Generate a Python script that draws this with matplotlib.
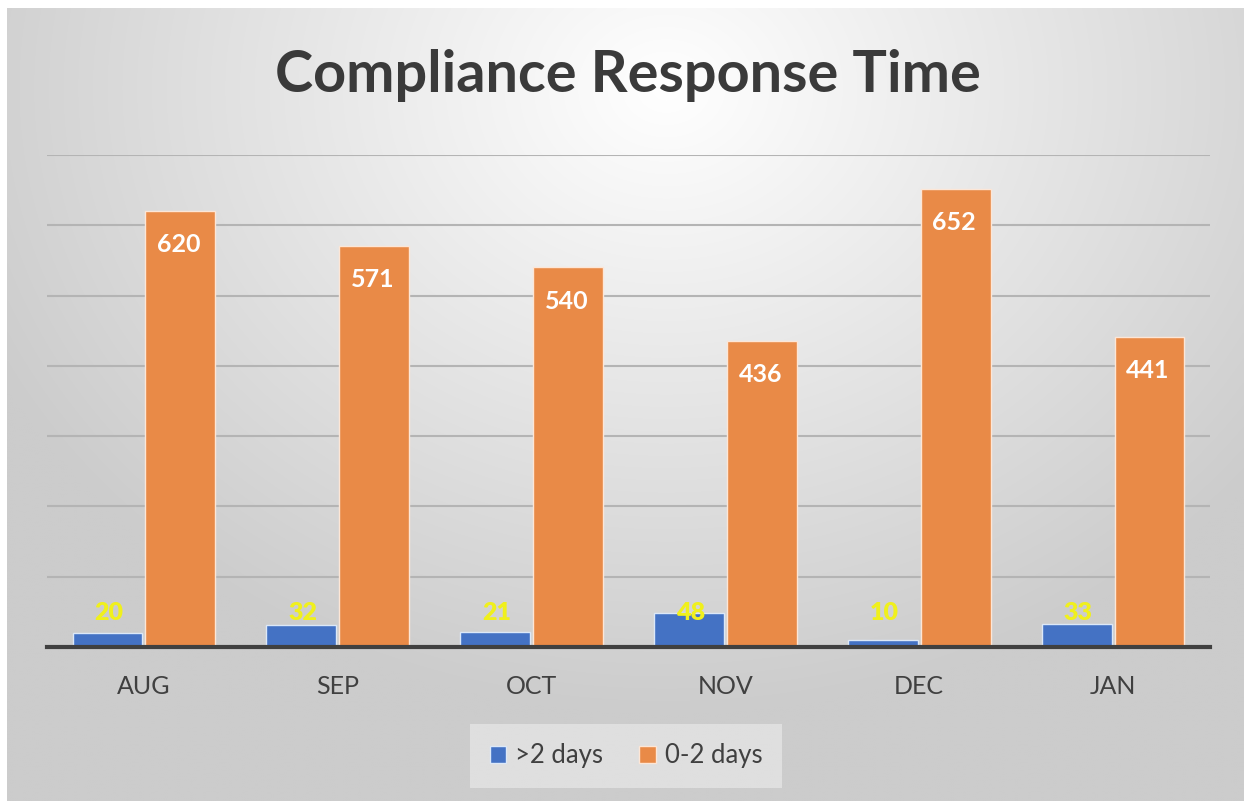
import matplotlib.pyplot as plt
import numpy as np

months = ['AUG', 'SEP', 'OCT', 'NOV', 'DEC', 'JAN']
over2 = [20, 32, 21, 48, 10, 33]
within2 = [620, 571, 540, 436, 652, 441]

W, H = 1244, 801
fig = plt.figure(figsize=(W / 100, H / 100), dpi=100)
fig.patch.set_facecolor('white')

# radial gradient background (white near the top middle, grey at the edges)
bg = fig.add_axes([7 / W, 0, 1 - 7 / W, 1 - 8 / H])
yy, xx = np.mgrid[0:400, 0:620]
cx, cy = 330, 40
r = np.sqrt(((xx - cx) / 620) ** 2 + ((yy - cy) / 520) ** 2)
shade = np.clip(1.0 - 0.33 * r, 0.8, 1.0)
bg.imshow(np.dstack([shade, shade, shade]), aspect='auto', extent=[0, 1, 0, 1],
          interpolation='bilinear', origin='upper')
bg.axis('off')

ax = fig.add_axes([47 / W, 1 - 647 / H, 1163 / W, 492 / H])
ax.patch.set_alpha(0)
x = np.arange(len(months))
w = 0.36
ax.set_ylim(0, 700)
ax.set_xlim(-0.5, len(months) - 0.5)
ax.set_yticks(np.arange(100, 701, 100))
ax.yaxis.grid(True, color='#b4b4b4', linewidth=1.5, zorder=0)
ax.set_axisbelow(True)

b1 = ax.bar(x - w / 2 - 0.008, over2, w, color='#4472c4', edgecolor='#dce8f8',
            linewidth=1, label='>2 days', zorder=2)
b2 = ax.bar(x + w / 2 + 0.008, within2, w, color='#e98a47', edgecolor='#fde6d6',
            linewidth=1, label='0-2 days', zorder=2)

# the small labels all sit on one line just above the short bars
for xi, v in zip(x, over2):
    ax.text(xi - w / 2, 48, str(v), ha='center', va='center', color='#f0f01c',
            fontsize=18, fontweight='heavy', family='Lato', zorder=3)
for xi, v in zip(x, within2):
    ax.text(xi + w / 2, v - 48, str(v), ha='center', va='center', color='white',
            fontsize=18, fontweight='bold', family='Lato', zorder=3)

for s in ['top', 'right', 'left']:
    ax.spines[s].set_visible(False)
ax.spines['bottom'].set_color('#404040')
ax.spines['bottom'].set_linewidth(3)
ax.tick_params(axis='y', left=False, labelleft=False)
ax.tick_params(axis='x', length=0, pad=20)
ax.set_xticks(x)
ax.set_xticklabels(months, fontsize=18, color='#404040', family='Lato')

fig.text(628 / W, 1 - 76 / H, 'Compliance Response Time', ha='center', va='center',
         fontsize=41.5, fontweight='bold', color='#3a3a3a', family='Lato')

leg = fig.legend(handles=[b1, b2], loc='center', bbox_to_anchor=(626 / W, 1 - 756 / H),
                 ncol=2, frameon=True, handlelength=0.65, handleheight=0.65,
                 handletextpad=0.35, columnspacing=1.4, borderpad=0.45,
                 prop={'family': 'Lato', 'size': 18.5})
leg.get_frame().set_facecolor('#e4e4e4')
leg.get_frame().set_edgecolor('none')
leg.get_frame().set_boxstyle('square')
for t in leg.get_texts():
    t.set_color('#404040')

fig.savefig('out.png', dpi=100)
